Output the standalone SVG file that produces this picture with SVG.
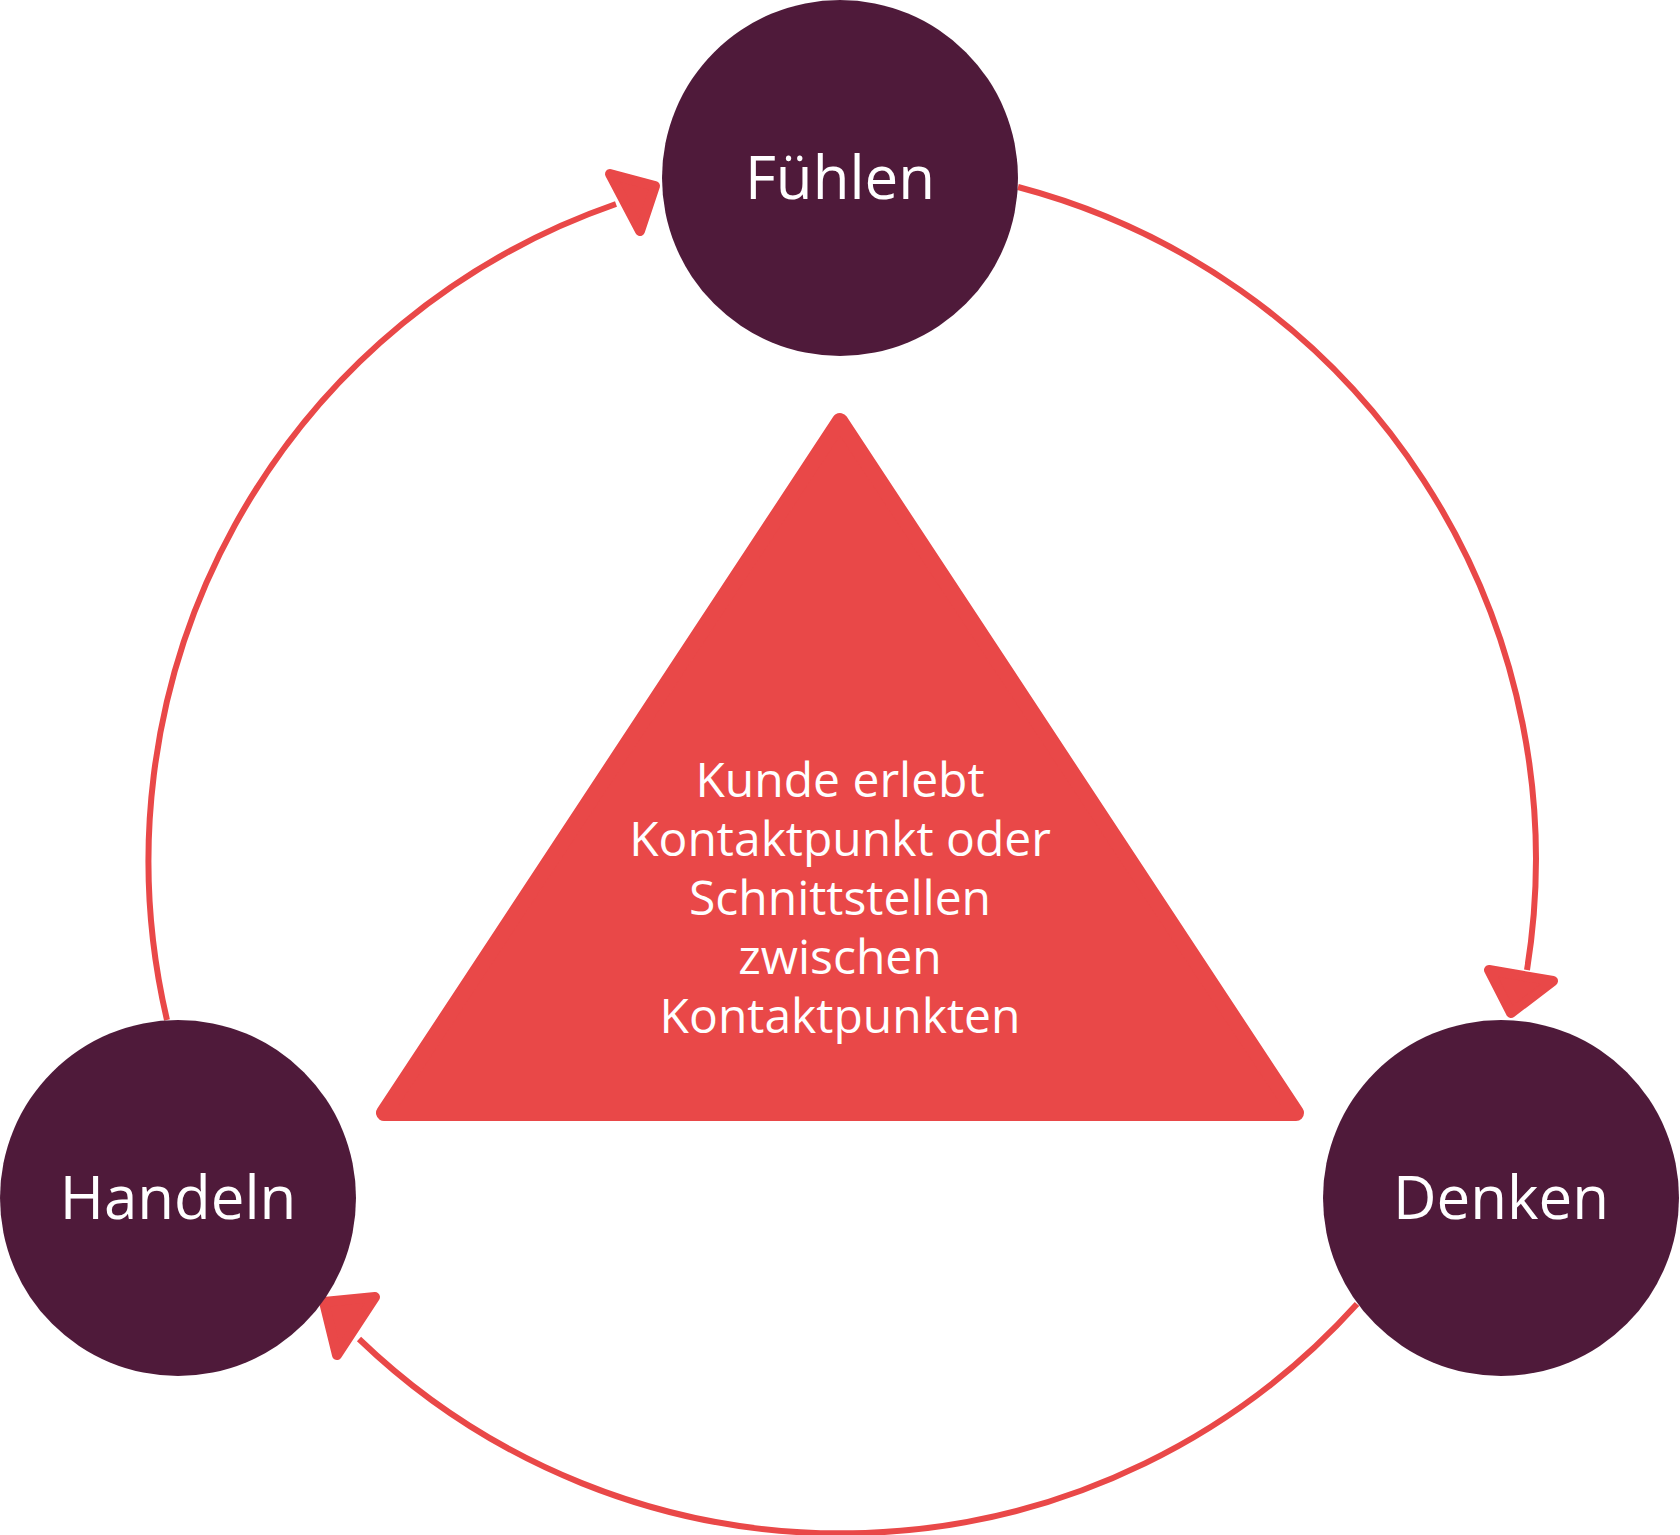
<svg xmlns="http://www.w3.org/2000/svg" width="1680" height="1535" viewBox="0 0 1680 1535">
<style>
.node{fill:#4f1a3a}
.lbl{fill:#fff;font-family:"Open Sans","Liberation Sans",sans-serif;font-size:60px;text-anchor:middle}
.c{fill:none;stroke:#e94848;stroke-width:6}
.ah{fill:#e94848;stroke:#e94848;stroke-width:10;stroke-linejoin:round}
.t{fill:#fff;font-family:"Open Sans","Liberation Sans",sans-serif;font-size:48px;text-anchor:middle}
</style>
<rect width="1680" height="1535" fill="#fff"/>
<g id="connectors">
<path class="c" d="M1018 187 A695 695 0 0 1 1527 970"/>
<polygon class="ah" points="1489,970 1553,981 1511,1013"/>
<path class="c" d="M1357 1304 A695 695 0 0 1 359 1339"/>
<polygon class="ah" points="324,1302 375,1297 337,1355"/>
<path class="c" d="M167 1020 A695 695 0 0 1 616 204"/>
<polygon class="ah" points="610,174 655,186 640,231"/>
</g>
<g id="center">
<polygon points="840,421 384,1113 1296,1113" fill="#e94848" stroke="#e94848" stroke-width="16" stroke-linejoin="round"/>
<text class="t" x="840" y="797">Kunde erlebt</text>
<text class="t" x="840" y="856">Kontaktpunkt oder</text>
<text class="t" x="840" y="915">Schnittstellen</text>
<text class="t" x="840" y="974">zwischen</text>
<text class="t" x="840" y="1033">Kontaktpunkten</text>
</g>
<g id="fuehlen"><circle class="node" cx="840" cy="178" r="178"/><text class="lbl" x="840" y="199">Fühlen</text></g>
<g id="handeln"><circle class="node" cx="178" cy="1198" r="178"/><text class="lbl" x="178" y="1219">Handeln</text></g>
<g id="denken"><circle class="node" cx="1501" cy="1198" r="178"/><text class="lbl" x="1501" y="1219">Denken</text></g>
</svg>
